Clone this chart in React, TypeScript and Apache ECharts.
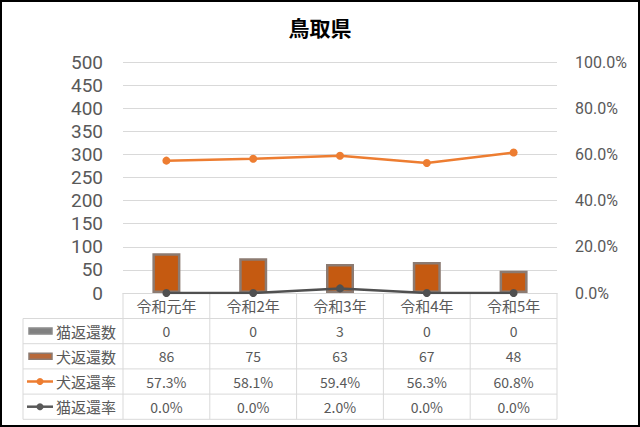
import { useEffect, useRef } from 'react';
import * as echarts from 'echarts';

const categories = ['令和元年', '令和2年', '令和3年', '令和4年', '令和5年'];
const catReturns = [0, 0, 3, 0, 0];
const dogReturns = [86, 75, 63, 67, 48];
const dogRate = [57.3, 58.1, 59.4, 56.3, 60.8];
const catRate = [0.0, 0.0, 2.0, 0.0, 0.0];

const FONT = '"Noto Sans CJK JP", "Noto Sans", sans-serif';
const NUM_FONT = 'Roboto, "Noto Sans", sans-serif';
const TEXT = '#595959';
const GRID_LINE = '#d9d9d9';

// plot area in pixels
const PLOT_LEFT = 123;
const PLOT_RIGHT = 557;
const PLOT_TOP = 62;
const AXIS_Y = 293;
const ROW_TOP = 318.5;
const ROW_H = 25.2;
const TABLE_LEFT = 23;

const pct = (v: number) => `${v.toFixed(1)}%`;

function buildTable() {
  const colW = (PLOT_RIGHT - PLOT_LEFT) / categories.length;
  const bottom = ROW_TOP + 4 * ROW_H;
  const rows = [
    { name: '猫返還数', values: catReturns.map(String), key: 'bar', color: '#808080', border: '#8a8a8a' },
    { name: '犬返還数', values: dogReturns.map(String), key: 'bar', color: '#b8693a', border: '#8c7b72' },
    { name: '犬返還率', values: dogRate.map(pct), key: 'line', color: '#ed7d31' },
    { name: '猫返還率', values: catRate.map(pct), key: 'line', color: '#595959' },
  ];
  const els: any[] = [];
  const lineStyle = { stroke: GRID_LINE, lineWidth: 1 };

  for (let i = 0; i <= categories.length; i++) {
    const x = PLOT_LEFT + i * colW;
    els.push({ type: 'line', shape: { x1: x, y1: AXIS_Y, x2: x, y2: bottom }, style: lineStyle, silent: true });
  }
  els.push({ type: 'line', shape: { x1: TABLE_LEFT, y1: ROW_TOP, x2: TABLE_LEFT, y2: bottom }, style: lineStyle, silent: true });
  for (let r = 0; r <= rows.length; r++) {
    const y = ROW_TOP + r * ROW_H;
    els.push({ type: 'line', shape: { x1: TABLE_LEFT, y1: y, x2: PLOT_RIGHT, y2: y }, style: lineStyle, silent: true });
  }

  rows.forEach((row, r) => {
    const cy = ROW_TOP + r * ROW_H + ROW_H / 2;
    if (row.key === 'bar') {
      els.push({
        type: 'rect',
        shape: { x: 29, y: cy - 3, width: 23, height: 6 },
        style: { fill: row.color, stroke: row.border, lineWidth: 1.5 },
        silent: true,
      });
    } else {
      els.push({
        type: 'line',
        shape: { x1: 27, y1: cy, x2: 53, y2: cy },
        style: { stroke: row.color, lineWidth: 2.5 },
        silent: true,
      });
      els.push({
        type: 'circle',
        shape: { cx: 40, cy, r: 3.5 },
        style: { fill: row.color },
        silent: true,
      });
    }
    els.push({
      type: 'text',
      x: 56,
      y: cy,
      style: { text: row.name, fontSize: 15, fontFamily: FONT, fill: TEXT, verticalAlign: 'middle', align: 'left' },
      silent: true,
    });
    row.values.forEach((v, i) => {
      els.push({
        type: 'text',
        x: PLOT_LEFT + (i + 0.5) * colW,
        y: cy,
        style: { text: v, fontSize: 14, fontFamily: FONT, fill: TEXT, verticalAlign: 'middle', align: 'center' },
        silent: true,
      });
    });
  });

  // outer frame
  els.push({
    type: 'rect',
    shape: { x: 1, y: 1, width: 638, height: 425 },
    style: { fill: 'none', stroke: '#000', lineWidth: 2 },
    silent: true,
  });
  return els;
}

export default function App() {
  const chartRef = useRef<HTMLDivElement>(null);

  useEffect(() => {
    if (!chartRef.current) return;
    document.body.style.margin = '0';
    const chart = echarts.init(chartRef.current, null, { renderer: 'svg' });

    const option: echarts.EChartsOption = {
      animation: false,
      backgroundColor: '#fff',
      textStyle: { fontFamily: FONT },
      title: {
        text: '鳥取県',
        left: 'center',
        top: 11,
        textStyle: { fontSize: 21, fontWeight: 'bold', color: '#000', fontFamily: FONT },
      },
      grid: {
        left: PLOT_LEFT,
        right: 640 - PLOT_RIGHT,
        top: PLOT_TOP,
        bottom: 427 - AXIS_Y,
      },
      xAxis: {
        type: 'category',
        data: categories,
        axisLine: { lineStyle: { color: GRID_LINE, width: 1 } },
        axisTick: { show: false },
        axisLabel: { color: TEXT, fontSize: 15, margin: 5, fontFamily: FONT },
      },
      yAxis: [
        {
          type: 'value',
          min: 0,
          max: 500,
          interval: 50,
          axisLine: { show: false },
          axisTick: { show: false },
          axisLabel: { color: TEXT, fontSize: 19, lineHeight: 20, margin: 20, fontFamily: NUM_FONT },
          splitLine: { lineStyle: { color: GRID_LINE, width: 1 } },
        },
        {
          type: 'value',
          min: 0,
          max: 100,
          interval: 20,
          axisLine: { show: false },
          axisTick: { show: false },
          axisLabel: { color: TEXT, fontSize: 16, margin: 18, fontFamily: NUM_FONT, formatter: (v: number) => pct(v) },
          splitLine: { show: false },
        },
      ],
      series: [
        {
          name: '猫返還数',
          type: 'bar',
          barWidth: 28,
          barGap: '-100%',
          itemStyle: { color: '#808080' },
          data: catReturns,
        },
        {
          name: '犬返還数',
          type: 'bar',
          barWidth: 28,
          barGap: '-100%',
          itemStyle: { color: '#c55a11', borderColor: '#8c7b72', borderWidth: 2.5 },
          data: dogReturns,
        },
        {
          name: '犬返還率',
          type: 'line',
          yAxisIndex: 1,
          symbol: 'circle',
          symbolSize: 8,
          lineStyle: { color: '#ed7d31', width: 2.5 },
          itemStyle: { color: '#ed7d31' },
          data: dogRate,
        },
        {
          name: '猫返還率',
          type: 'line',
          yAxisIndex: 1,
          symbol: 'circle',
          symbolSize: 8,
          lineStyle: { color: '#505050', width: 2.5 },
          itemStyle: { color: '#505050' },
          data: catRate,
        },
      ],
      graphic: buildTable(),
    };

    chart.setOption(option);
    return () => {
      chart.dispose();
    };
  }, []);

  return <div ref={chartRef} style={{ width: 640, height: 427 }} />;
}
